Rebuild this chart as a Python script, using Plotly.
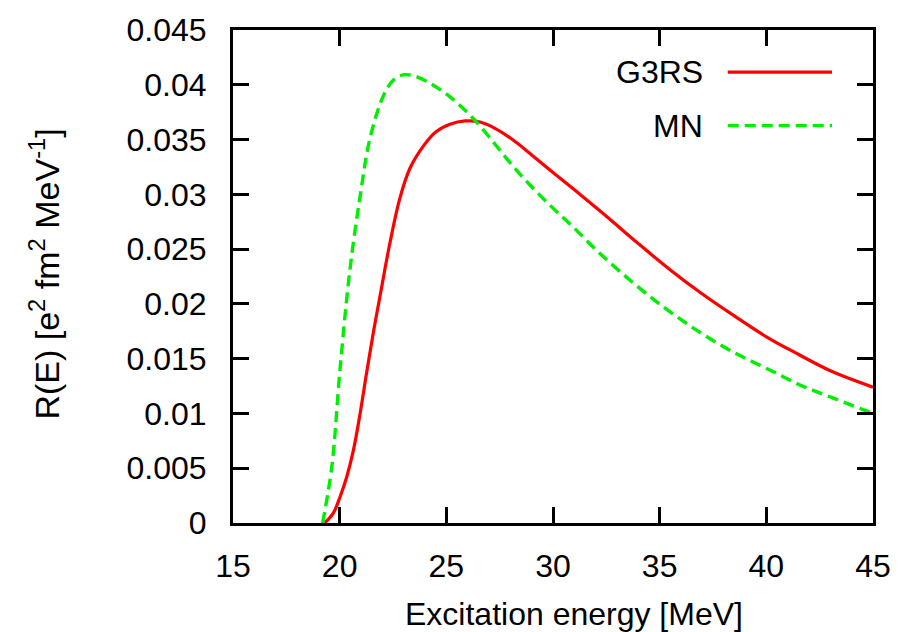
import plotly.graph_objects as go

# G3RS (red solid)
g3rs_x = [19.3, 19.7, 20.02, 20.33, 20.64, 20.95, 21.27, 21.58, 21.89, 22.36, 22.83, 23.3, 23.92,
          24.5, 25.17, 25.88, 26.58, 27.3, 28.1, 29.0, 30.0, 31.2, 32.5, 34.0, 35.5, 37.0, 38.5,
          40.0, 41.5, 43.0, 45.0]
g3rs_y = [0.0, 0.0009, 0.0024, 0.0042, 0.0066, 0.0099, 0.0138, 0.0174, 0.0207, 0.0256, 0.0297,
          0.0324, 0.0344, 0.0357, 0.0364, 0.0367, 0.0366, 0.0360, 0.0350, 0.0336, 0.0320, 0.0301,
          0.0280, 0.0255, 0.0231, 0.0209, 0.0189, 0.0170, 0.0154, 0.0139, 0.0124]

# MN (green dashed)
mn_x = [19.2, 19.63, 20.02, 20.48, 20.95, 21.42, 22.05, 22.5, 22.98, 23.5, 24.08, 24.6, 25.17,
        25.7, 26.27, 26.9, 27.52, 28.2, 28.9, 29.86, 30.9, 32.2, 33.77, 35.33, 36.89, 38.45,
        40.02, 41.58, 43.14, 45.0]
mn_y = [0.0, 0.0051, 0.0141, 0.0231, 0.0297, 0.0351, 0.0390, 0.0404, 0.0409, 0.0408, 0.0403,
        0.0397, 0.0389, 0.0380, 0.0369, 0.0355, 0.0340, 0.0324, 0.0309, 0.0290, 0.0271, 0.0246,
        0.0219, 0.0195, 0.0174, 0.0156, 0.0141, 0.0126, 0.0114, 0.0100]

x_ticks = [15, 20, 25, 30, 35, 40, 45]
y_ticks = [0, 0.005, 0.01, 0.015, 0.02, 0.025, 0.03, 0.035, 0.04, 0.045]
y_tick_text = ["0", "0.005", "0.01", "0.015", "0.02", "0.025", "0.03", "0.035", "0.04", "0.045"]

FONT = "Liberation Sans, Arial, sans-serif"
RED = "#ff0000"
GREEN = "#00ee00"
DASH = "11px,6px"

fig = go.Figure()
fig.add_trace(go.Scatter(x=g3rs_x, y=g3rs_y, mode="lines", name="G3RS",
                         line=dict(color=RED, width=3.2, shape="spline", smoothing=1.0)))
fig.add_trace(go.Scatter(x=mn_x, y=mn_y, mode="lines", name="MN",
                         line=dict(color=GREEN, width=3.4, dash=DASH, shape="spline", smoothing=1.0)))

axis_common = dict(showgrid=False, zeroline=False, showline=True, linecolor="black", linewidth=3,
                   mirror="allticks", ticks="inside", ticklen=16, tickwidth=3, tickcolor="black",
                   tickfont=dict(family=FONT, size=32, color="black"))

fig.update_xaxes(range=[15, 45], tickvals=x_ticks, ticklabelstandoff=13, **axis_common)
fig.update_yaxes(range=[0, 0.045], tickvals=y_ticks, ticktext=y_tick_text, ticklabelstandoff=17,
                 **axis_common)

# legend (manual, gnuplot style: text right-aligned, sample line to the right)
leg = [("G3RS", RED, "solid", 0.9146), ("MN", GREEN, DASH, 0.806)]
for name, col, dash, yy in leg:
    fig.add_annotation(x=0.7375, y=yy, xref="paper", yref="paper", text=name, showarrow=False,
                       xanchor="right", yanchor="middle", font=dict(family=FONT, size=32, color="black"))
    fig.add_shape(type="line", xref="paper", yref="paper", x0=0.773, x1=0.936, y0=yy, y1=yy,
                  line=dict(color=col, width=3.4, dash=dash))

fig.add_annotation(x=0.533, y=-0.184, xref="paper", yref="paper", text="Excitation energy [MeV]",
                   showarrow=False, xanchor="center", yanchor="middle",
                   font=dict(family=FONT, size=32, color="black"))
fig.add_annotation(x=-0.296, y=0.505, xref="paper", yref="paper",
                   text="R(E) [e<sup>2</sup> fm<sup>2</sup> MeV<sup>-1</sup>]", textangle=-90,
                   showarrow=False, xanchor="center", yanchor="middle",
                   font=dict(family=FONT, size=34, color="black"))

fig.update_layout(width=913, height=632, margin=dict(l=233, r=40, t=23, b=109),
                  paper_bgcolor="white", plot_bgcolor="white", showlegend=False)

fig.write_html("out.html")
